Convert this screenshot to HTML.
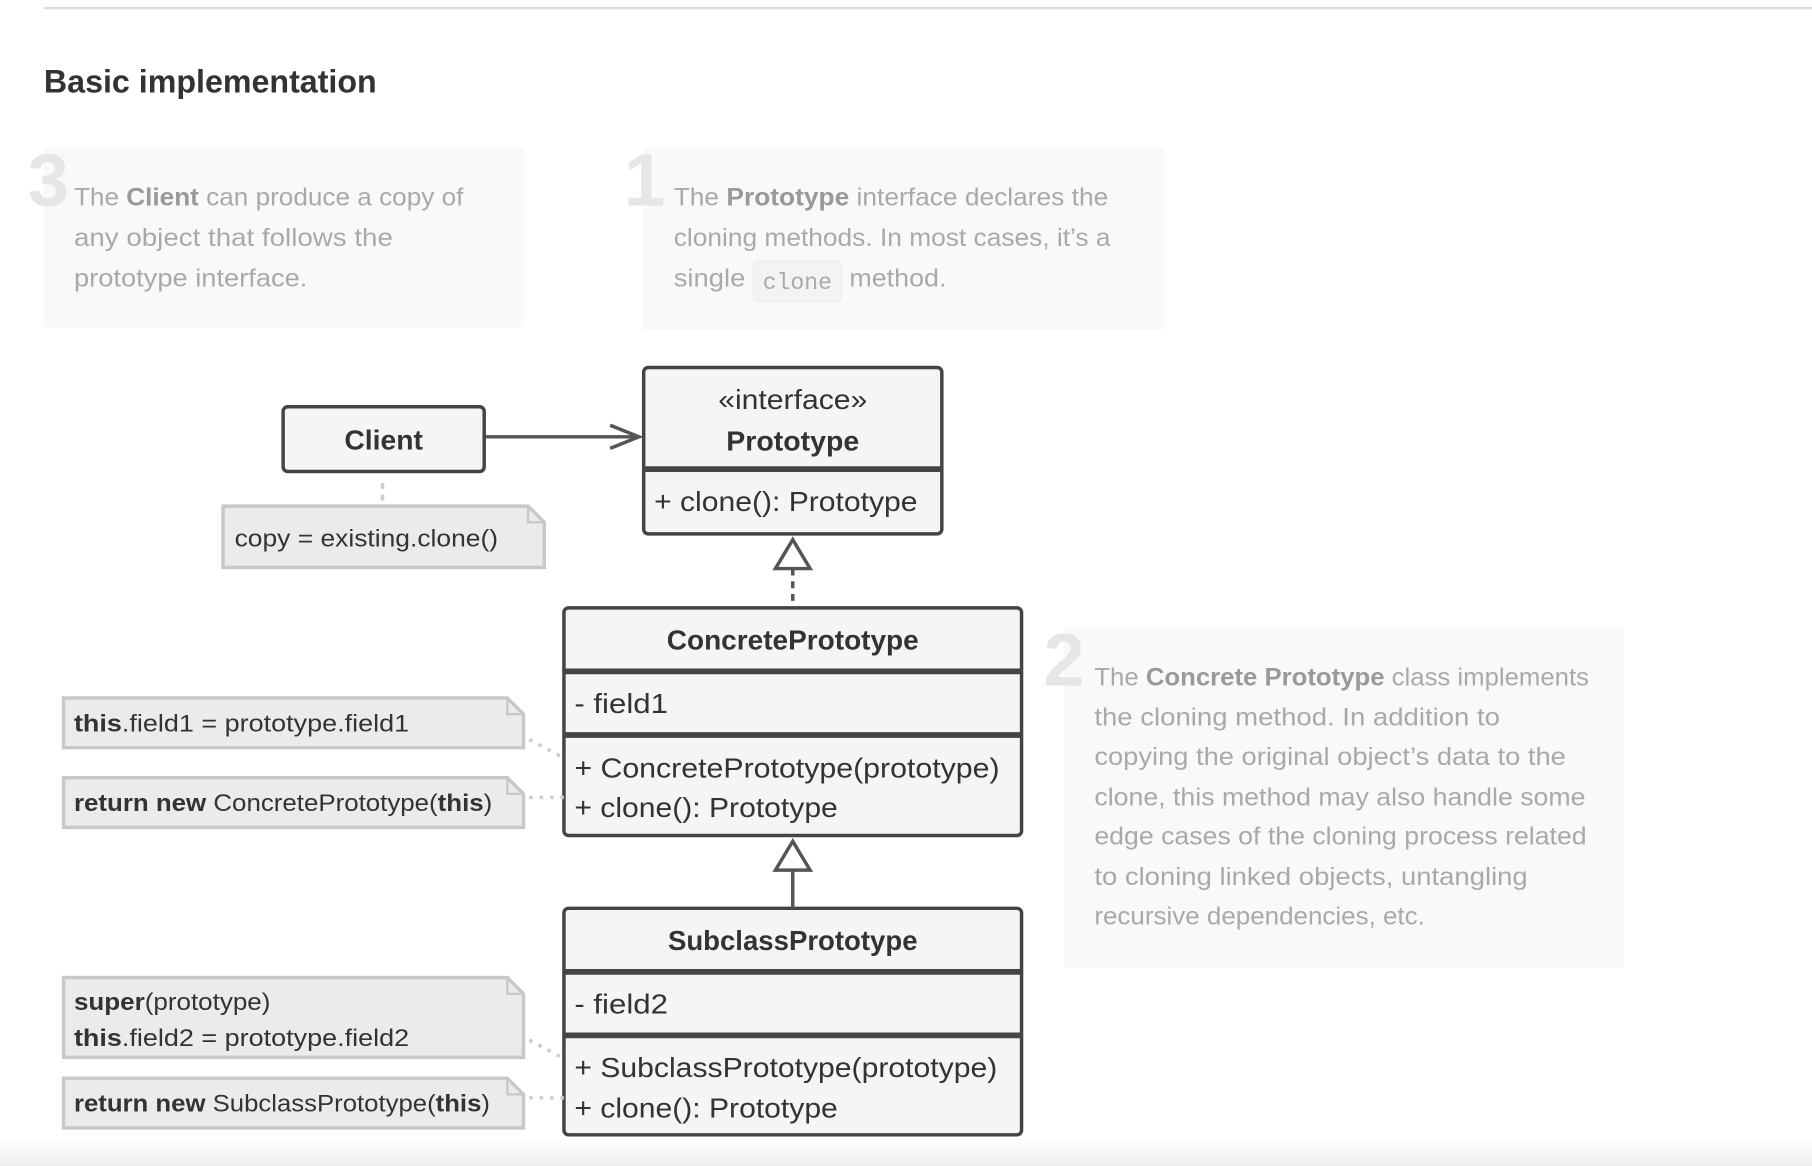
<!DOCTYPE html>
<html><head><meta charset="utf-8"><style>
html,body{margin:0;padding:0;background:#fff;width:1812px;height:1166px;overflow:hidden}
svg{display:block}
text{font-family:"Liberation Sans",sans-serif}
.c{fill:#a9a9a9;font-size:22px}
.c b,.cb{font-weight:bold;fill:#999}
.d{fill:#333;font-size:24px}
.n{fill:#333;font-size:21px}
.big{fill:#e6e6e6;font-size:64px;font-weight:bold}
</style></head><body>
<svg width="1812" height="1166" viewBox="0 0 1568 1009" preserveAspectRatio="none">
<defs><linearGradient id="g" x1="0" y1="0" x2="0" y2="1"><stop offset="0" stop-color="#fff"/><stop offset="1" stop-color="#ededed"/></linearGradient></defs>
<rect x="0" y="985" width="1568" height="24" fill="url(#g)"/>
<line x1="38" y1="7" x2="1568" y2="7" stroke="#ddd" stroke-width="2"/>
<text x="38" y="80" font-size="28" font-weight="bold" fill="#333" textLength="288" lengthAdjust="spacingAndGlyphs">Basic implementation</text>

<!-- callout 3 -->
<rect x="38" y="128" width="415" height="155" fill="#f9f9f9"/>
<text x="24" y="178" class="big">3</text>
<text x="64" y="178" class="c" textLength="337" lengthAdjust="spacingAndGlyphs">The <tspan class="cb">Client</tspan> can produce a copy of</text>
<text x="64" y="213" class="c" textLength="276" lengthAdjust="spacingAndGlyphs">any object that follows the</text>
<text x="64" y="248" class="c" textLength="202" lengthAdjust="spacingAndGlyphs">prototype interface.</text>

<!-- callout 1 -->
<rect x="557" y="128" width="450" height="158" fill="#f9f9f9"/>
<text x="540" y="178" class="big">1</text>
<text x="583" y="178" class="c" textLength="376" lengthAdjust="spacingAndGlyphs">The <tspan class="cb">Prototype</tspan> interface declares the</text>
<text x="583" y="213" class="c" textLength="378" lengthAdjust="spacingAndGlyphs">cloning methods. In most cases, it’s a</text>
<text x="583" y="248" class="c" textLength="62" lengthAdjust="spacingAndGlyphs">single</text>
<rect x="652" y="226" width="76" height="35" rx="4" fill="#f3f3f3" stroke="#ececec"/>
<text x="660" y="250" font-family="Liberation Mono" font-size="20" fill="#aaa" textLength="60" lengthAdjust="spacingAndGlyphs" style="font-family:'Liberation Mono',monospace">clone</text>
<text x="735" y="248" class="c" textLength="84" lengthAdjust="spacingAndGlyphs">method.</text>

<!-- callout 2 -->
<rect x="921" y="544" width="484" height="293" fill="#f9f9f9"/>
<text x="903" y="593" class="big">2</text>
<text x="947" y="593" class="c" textLength="428" lengthAdjust="spacingAndGlyphs">The <tspan class="cb">Concrete Prototype</tspan> class implements</text>
<text x="947" y="628" class="c" textLength="351" lengthAdjust="spacingAndGlyphs">the cloning method. In addition to</text>
<text x="947" y="662" class="c" textLength="408" lengthAdjust="spacingAndGlyphs">copying the original object’s data to the</text>
<text x="947" y="697" class="c" textLength="425" lengthAdjust="spacingAndGlyphs">clone, this method may also handle some</text>
<text x="947" y="731" class="c" textLength="426" lengthAdjust="spacingAndGlyphs">edge cases of the cloning process related</text>
<text x="947" y="766" class="c" textLength="375" lengthAdjust="spacingAndGlyphs">to cloning linked objects, untangling</text>
<text x="947" y="800" class="c" textLength="286" lengthAdjust="spacingAndGlyphs">recursive dependencies, etc.</text>

<g stroke="#444" stroke-width="3" fill="#f5f5f5">
<rect x="245" y="352" width="174" height="56" rx="4"/>
<rect x="557" y="318" width="258" height="144" rx="4"/>
<rect x="488" y="526" width="396" height="197" rx="4"/>
<rect x="488" y="786" width="396" height="196" rx="4"/>
</g>
<g stroke="#444" stroke-width="5">
<line x1="557" y1="406" x2="815" y2="406"/>
<line x1="488" y1="581" x2="884" y2="581"/>
<line x1="488" y1="636" x2="884" y2="636"/>
<line x1="488" y1="841" x2="884" y2="841"/>
<line x1="488" y1="896" x2="884" y2="896"/>
</g>
<!-- association arrow -->
<g stroke="#555" stroke-width="3" fill="none">
<line x1="420" y1="378" x2="553" y2="378"/>
<polyline points="528,368 553,378 528,388"/>
<line x1="686" y1="492" x2="686" y2="525" stroke-dasharray="6,5"/>
<polygon points="686,467 671,492 701,492" fill="#fff"/>
<line x1="686" y1="753" x2="686" y2="786"/>
<polygon points="686,728 671,753 701,753" fill="#fff"/>
</g>
<line x1="331" y1="418" x2="331" y2="438" stroke="#ccc" stroke-width="3" stroke-dasharray="5,5"/>
<g stroke="#ccc" stroke-width="3" stroke-dasharray="3,6" fill="none">
<line x1="458" y1="640" x2="488" y2="656"/>
<line x1="458" y1="690" x2="488" y2="690"/>
<line x1="458" y1="900" x2="488" y2="916"/>
<line x1="458" y1="950" x2="488" y2="950"/>
</g>

<text x="332" y="389" class="d" font-weight="bold" text-anchor="middle" textLength="68" lengthAdjust="spacingAndGlyphs">Client</text>
<text x="686" y="354" class="d" text-anchor="middle" textLength="129" lengthAdjust="spacingAndGlyphs">«interface»</text>
<text x="686" y="390" class="d" font-weight="bold" text-anchor="middle" textLength="115" lengthAdjust="spacingAndGlyphs">Prototype</text>
<text x="566" y="442" class="d" textLength="228" lengthAdjust="spacingAndGlyphs">+ clone(): Prototype</text>
<text x="686" y="562" class="d" font-weight="bold" text-anchor="middle" textLength="218" lengthAdjust="spacingAndGlyphs">ConcretePrototype</text>
<text x="497" y="617" class="d" textLength="81" lengthAdjust="spacingAndGlyphs">- field1</text>
<text x="497" y="673" class="d" textLength="368" lengthAdjust="spacingAndGlyphs">+ ConcretePrototype(prototype)</text>
<text x="497" y="707" class="d" textLength="228" lengthAdjust="spacingAndGlyphs">+ clone(): Prototype</text>
<text x="686" y="822" class="d" font-weight="bold" text-anchor="middle" textLength="216" lengthAdjust="spacingAndGlyphs">SubclassPrototype</text>
<text x="497" y="877" class="d" textLength="81" lengthAdjust="spacingAndGlyphs">- field2</text>
<text x="497" y="932" class="d" textLength="366" lengthAdjust="spacingAndGlyphs">+ SubclassPrototype(prototype)</text>
<text x="497" y="967" class="d" textLength="228" lengthAdjust="spacingAndGlyphs">+ clone(): Prototype</text>

<!-- notes -->
<g fill="#ebebeb" stroke="#c8c8c8" stroke-width="3">
<path d="M193,438 H457 L471,452 V491 H193 Z"/>
<path d="M55,604 H439 L453,618 V647 H55 Z"/>
<path d="M55,673 H439 L453,687 V716 H55 Z"/>
<path d="M55,846 H439 L453,860 V915 H55 Z"/>
<path d="M55,933 H439 L453,947 V976 H55 Z"/>
</g>
<g fill="none" stroke="#c8c8c8" stroke-width="2">
<polyline points="457,438 457,452 471,452"/>
<polyline points="439,604 439,618 453,618"/>
<polyline points="439,673 439,687 453,687"/>
<polyline points="439,846 439,860 453,860"/>
<polyline points="439,933 439,947 453,947"/>
</g>
<text x="203" y="473" class="n" textLength="228" lengthAdjust="spacingAndGlyphs">copy = existing.clone()</text>
<text x="64" y="633" class="n" textLength="290" lengthAdjust="spacingAndGlyphs"><tspan font-weight="bold">this</tspan>.field1 = prototype.field1</text>
<text x="64" y="702" class="n" textLength="362" lengthAdjust="spacingAndGlyphs"><tspan font-weight="bold">return new</tspan> ConcretePrototype(<tspan font-weight="bold">this</tspan>)</text>
<text x="64" y="874" class="n" textLength="170" lengthAdjust="spacingAndGlyphs"><tspan font-weight="bold">super</tspan>(prototype)</text>
<text x="64" y="905" class="n" textLength="290" lengthAdjust="spacingAndGlyphs"><tspan font-weight="bold">this</tspan>.field2 = prototype.field2</text>
<text x="64" y="962" class="n" textLength="360" lengthAdjust="spacingAndGlyphs"><tspan font-weight="bold">return new</tspan> SubclassPrototype(<tspan font-weight="bold">this</tspan>)</text>
</svg>
</body></html>
